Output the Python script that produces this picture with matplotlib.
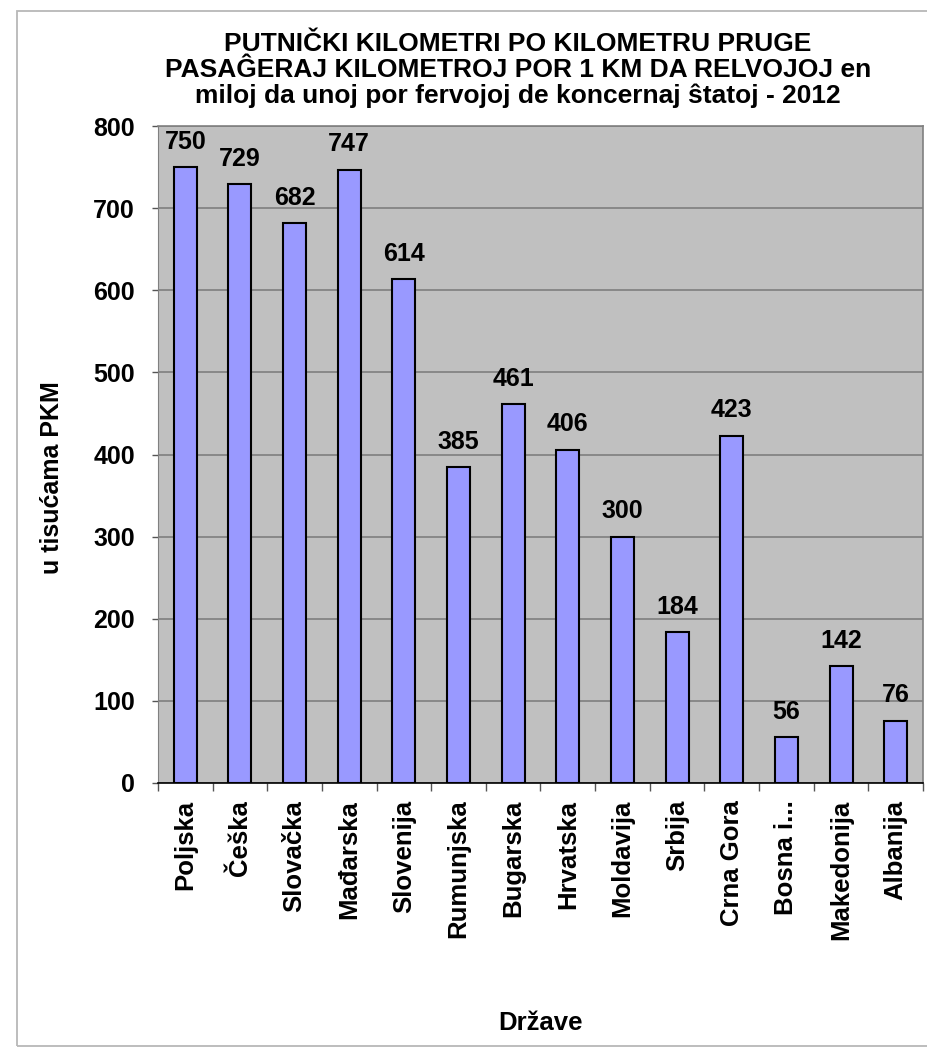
import matplotlib
matplotlib.use("Agg")
import matplotlib.pyplot as plt
import numpy as np
from matplotlib.patches import Rectangle

countries = ["Poljska", "Češka", "Slovačka", "Mađarska", "Slovenija", "Rumunjska",
             "Bugarska", "Hrvatska", "Moldavija", "Srbija", "Crna Gora", "Bosna i...",
             "Makedonija", "Albanija"]
values = [750, 729, 682, 747, 614, 385, 461, 406, 300, 184, 423, 56, 142, 76]
yticks = [0, 100, 200, 300, 400, 500, 600, 700, 800]
title = ("PUTNIČKI KILOMETRI PO KILOMETRU PRUGE\n"
         "PASAĜERAJ KILOMETROJ POR 1 KM DA RELVOJOJ en\n"
         "miloj da unoj por fervojoj de koncernaj ŝtatoj - 2012")

plt.rcParams['font.family'] = ['Liberation Sans', 'DejaVu Sans']
plt.rcParams['font.weight'] = 'bold'

fig = plt.figure(figsize=(9.27, 10.49), dpi=100)
fig.patch.set_facecolor('white')
fig.patches.append(Rectangle((17/927, 1-1046/1049), 930/927, 1035/1049,
                             transform=fig.transFigure, fill=False,
                             edgecolor='#b8b8b8', linewidth=1.3))

ax = fig.add_axes([158/927, 1-783/1049, 765/927, 657/1049])
ax.set_facecolor('#c0c0c0')
x = np.arange(len(countries))
ax.bar(x, values, width=0.42, color='#9999ff', edgecolor='black', linewidth=1.5, zorder=3)
for xi, v in zip(x, values):
    ax.annotate(str(v), (xi, v), xytext=(0, 9.5), textcoords='offset points',
                ha='center', va='bottom', fontsize=18, fontweight='bold')

ax.set_xlim(-0.5, len(countries) - 0.5)
ax.set_ylim(0, 800)
ax.set_yticks(yticks)
ax.set_yticklabels([str(t) for t in yticks], fontsize=18, fontweight='bold')
ax.yaxis.grid(True, color='#7f7f7f', linewidth=1.2, zorder=0)
ax.set_axisbelow(True)
ax.tick_params(axis='y', length=4.5, width=1, direction='out', pad=12, color='#555555')

ax.set_xticks(x)
ax.set_xticklabels(countries, rotation=90, fontsize=18.5, fontweight='bold')
ax.set_xticks(np.arange(-0.5, len(countries)), minor=True)
ax.tick_params(axis='x', which='major', length=0, pad=12)
ax.tick_params(axis='x', which='minor', length=6, width=1, direction='out', color='#555555')

for s in ['top', 'right']:
    ax.spines[s].set_color('#808080')
    ax.spines[s].set_linewidth(1.2)
ax.spines['left'].set_color('#808080')
ax.spines['bottom'].set_color('black')
ax.spines['bottom'].set_linewidth(1.2)

fig.text(518/927, 1-70/1049, title, ha='center', va='center', fontsize=19,
         fontweight='bold', linespacing=1.1)
fig.text(52/927, 1-478/1049, "u tisućama PKM", rotation=90, ha='center', va='center',
         fontsize=18, fontweight='bold')
fig.text(540/927, 1-1023/1049, "Države", ha='center', va='center',
         fontsize=18.5, fontweight='bold')

fig.savefig("out.png", dpi=100, facecolor='white')
